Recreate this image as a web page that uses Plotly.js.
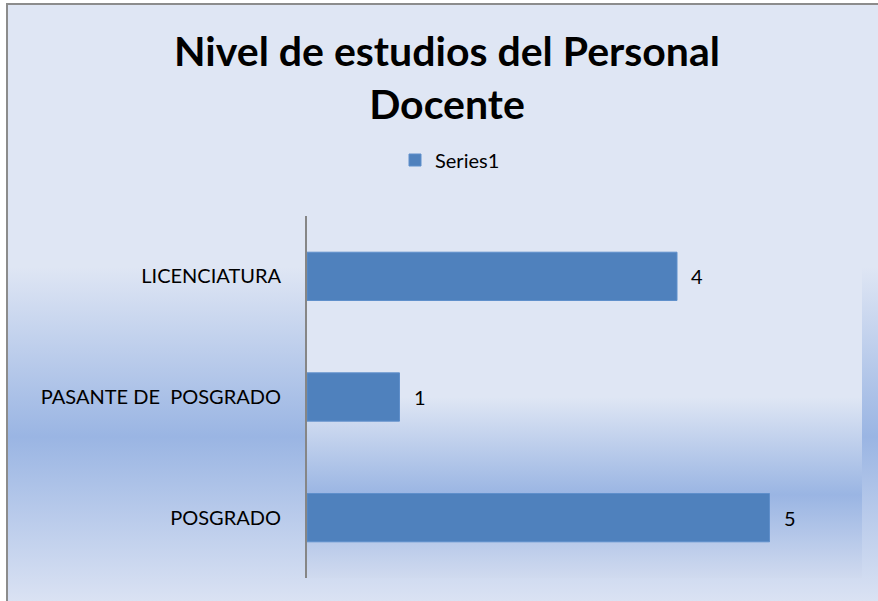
<!DOCTYPE html>
<html>
<head>
<meta charset="utf-8">
<script src="https://cdn.plot.ly/plotly-3.0.1.min.js"></script>
<style>
  html, body { margin: 0; padding: 0; background: #ffffff; }
  #chart { width: 878px; height: 601px; }
</style>
</head>
<body>
<div id="chart"></div>
<script>
// ---- data ----
var categories = ['POSGRADO', 'PASANTE DE  POSGRADO', 'LICENCIATURA'];
var values = [5, 1, 4];
var seriesName = 'Series1';
var chartTitle = 'Nivel de estudios del Personal<br>Docente';

// ---- styling helpers ----
function gradientSvg(stops) {
  var s = '<svg xmlns="http://www.w3.org/2000/svg" width="100" height="100" preserveAspectRatio="none">' +
    '<defs><linearGradient id="g" x1="0" y1="0" x2="0" y2="1">';
  stops.forEach(function (st) {
    s += '<stop offset="' + st[0] + '" stop-color="' + st[1] + '"/>';
  });
  s += '</linearGradient></defs><rect x="0" y="0" width="100" height="100" fill="url(#g)"/></svg>';
  return 'data:image/svg+xml;charset=utf-8,' + encodeURIComponent(s);
}

var W = 878, H = 601;
var L = 307, R = 862, T = 216, B = 578;
var pw = R - L, ph = B - T;
function px2x(px) { return (px - L) / pw; }
function py2y(py) { return (B - py) / ph; }

var chartBg = gradientSvg([[0, '#DFE6F4'], [0.44, '#DFE6F4'], [0.725, '#9AB5E3'], [1, '#DAE2F3']]);
var plotBg = gradientSvg([[0, '#DFE6F4'], [0.5, '#DFE6F4'], [0.77, '#9AB5E3'], [1, '#D0DAEF']]);

var FONT = 'Lato, "Open Sans", sans-serif';

var trace = {
  type: 'bar',
  orientation: 'h',
  name: seriesName,
  x: values,
  y: categories,
  marker: { color: '#4F81BD', line: { color: '#5F8FCB', width: 1 } },
  showlegend: true,
  hoverinfo: 'x+y'
};

var annotations = values.map(function (v, i) {
  return {
    x: v, y: categories[i], xref: 'x', yref: 'y',
    text: String(v), showarrow: false, xanchor: 'left', yanchor: 'middle',
    xshift: 12, font: { family: FONT, size: 20, color: '#000000' }
  };
});

var layout = {
  width: W, height: H,
  margin: { l: L, r: W - R, t: T, b: H - B, pad: 0 },
  paper_bgcolor: 'rgba(0,0,0,0)',
  plot_bgcolor: 'rgba(0,0,0,0)',
  font: { family: FONT, size: 20, color: '#000000' },
  title: {
    text: chartTitle,
    font: { family: FONT, size: 41, color: '#000000', weight: 'bold' },
    xref: 'container', x: 447 / W, xanchor: 'center',
    yref: 'container', y: 1 - 66 / H, yanchor: 'top'
  },
  showlegend: true,
  legend: {
    orientation: 'h', x: px2x(450), y: py2y(160), xanchor: 'center', yanchor: 'middle',
    font: { family: FONT, size: 20, color: '#000000' }, bgcolor: 'rgba(0,0,0,0)'
  },
  bargap: 0.6,
  xaxis: { range: [0, 6], visible: false, fixedrange: true },
  yaxis: {
    type: 'category', categoryorder: 'array', categoryarray: categories,
    showline: true, linecolor: '#868686', linewidth: 2,
    showgrid: false, zeroline: false, ticks: '', ticklabelstandoff: 20,
    tickfont: { family: FONT, size: 20, color: '#000000' }, fixedrange: true
  },
  annotations: annotations,
  images: [
    { source: chartBg, xref: 'paper', yref: 'paper', x: px2x(7), y: py2y(4),
      sizex: (W - 7) / pw, sizey: (H - 4) / ph, sizing: 'stretch', layer: 'below',
      xanchor: 'left', yanchor: 'top' },
    { source: plotBg, xref: 'paper', yref: 'paper', x: 0, y: 1,
      sizex: 1, sizey: 1, sizing: 'stretch', layer: 'below',
      xanchor: 'left', yanchor: 'top' }
  ],
  shapes: [
    { type: 'line', xref: 'paper', yref: 'paper', x0: px2x(7), x1: px2x(7), y0: py2y(3), y1: py2y(H + 2),
      line: { color: '#8C8C8C', width: 2 } },
    { type: 'line', xref: 'paper', yref: 'paper', x0: px2x(6), x1: px2x(W + 2), y0: py2y(4), y1: py2y(4),
      line: { color: '#8C8C8C', width: 2 } }
  ]
};

Plotly.newPlot('chart', [trace], layout, { displayModeBar: false, staticPlot: true });
</script>
</body>
</html>
